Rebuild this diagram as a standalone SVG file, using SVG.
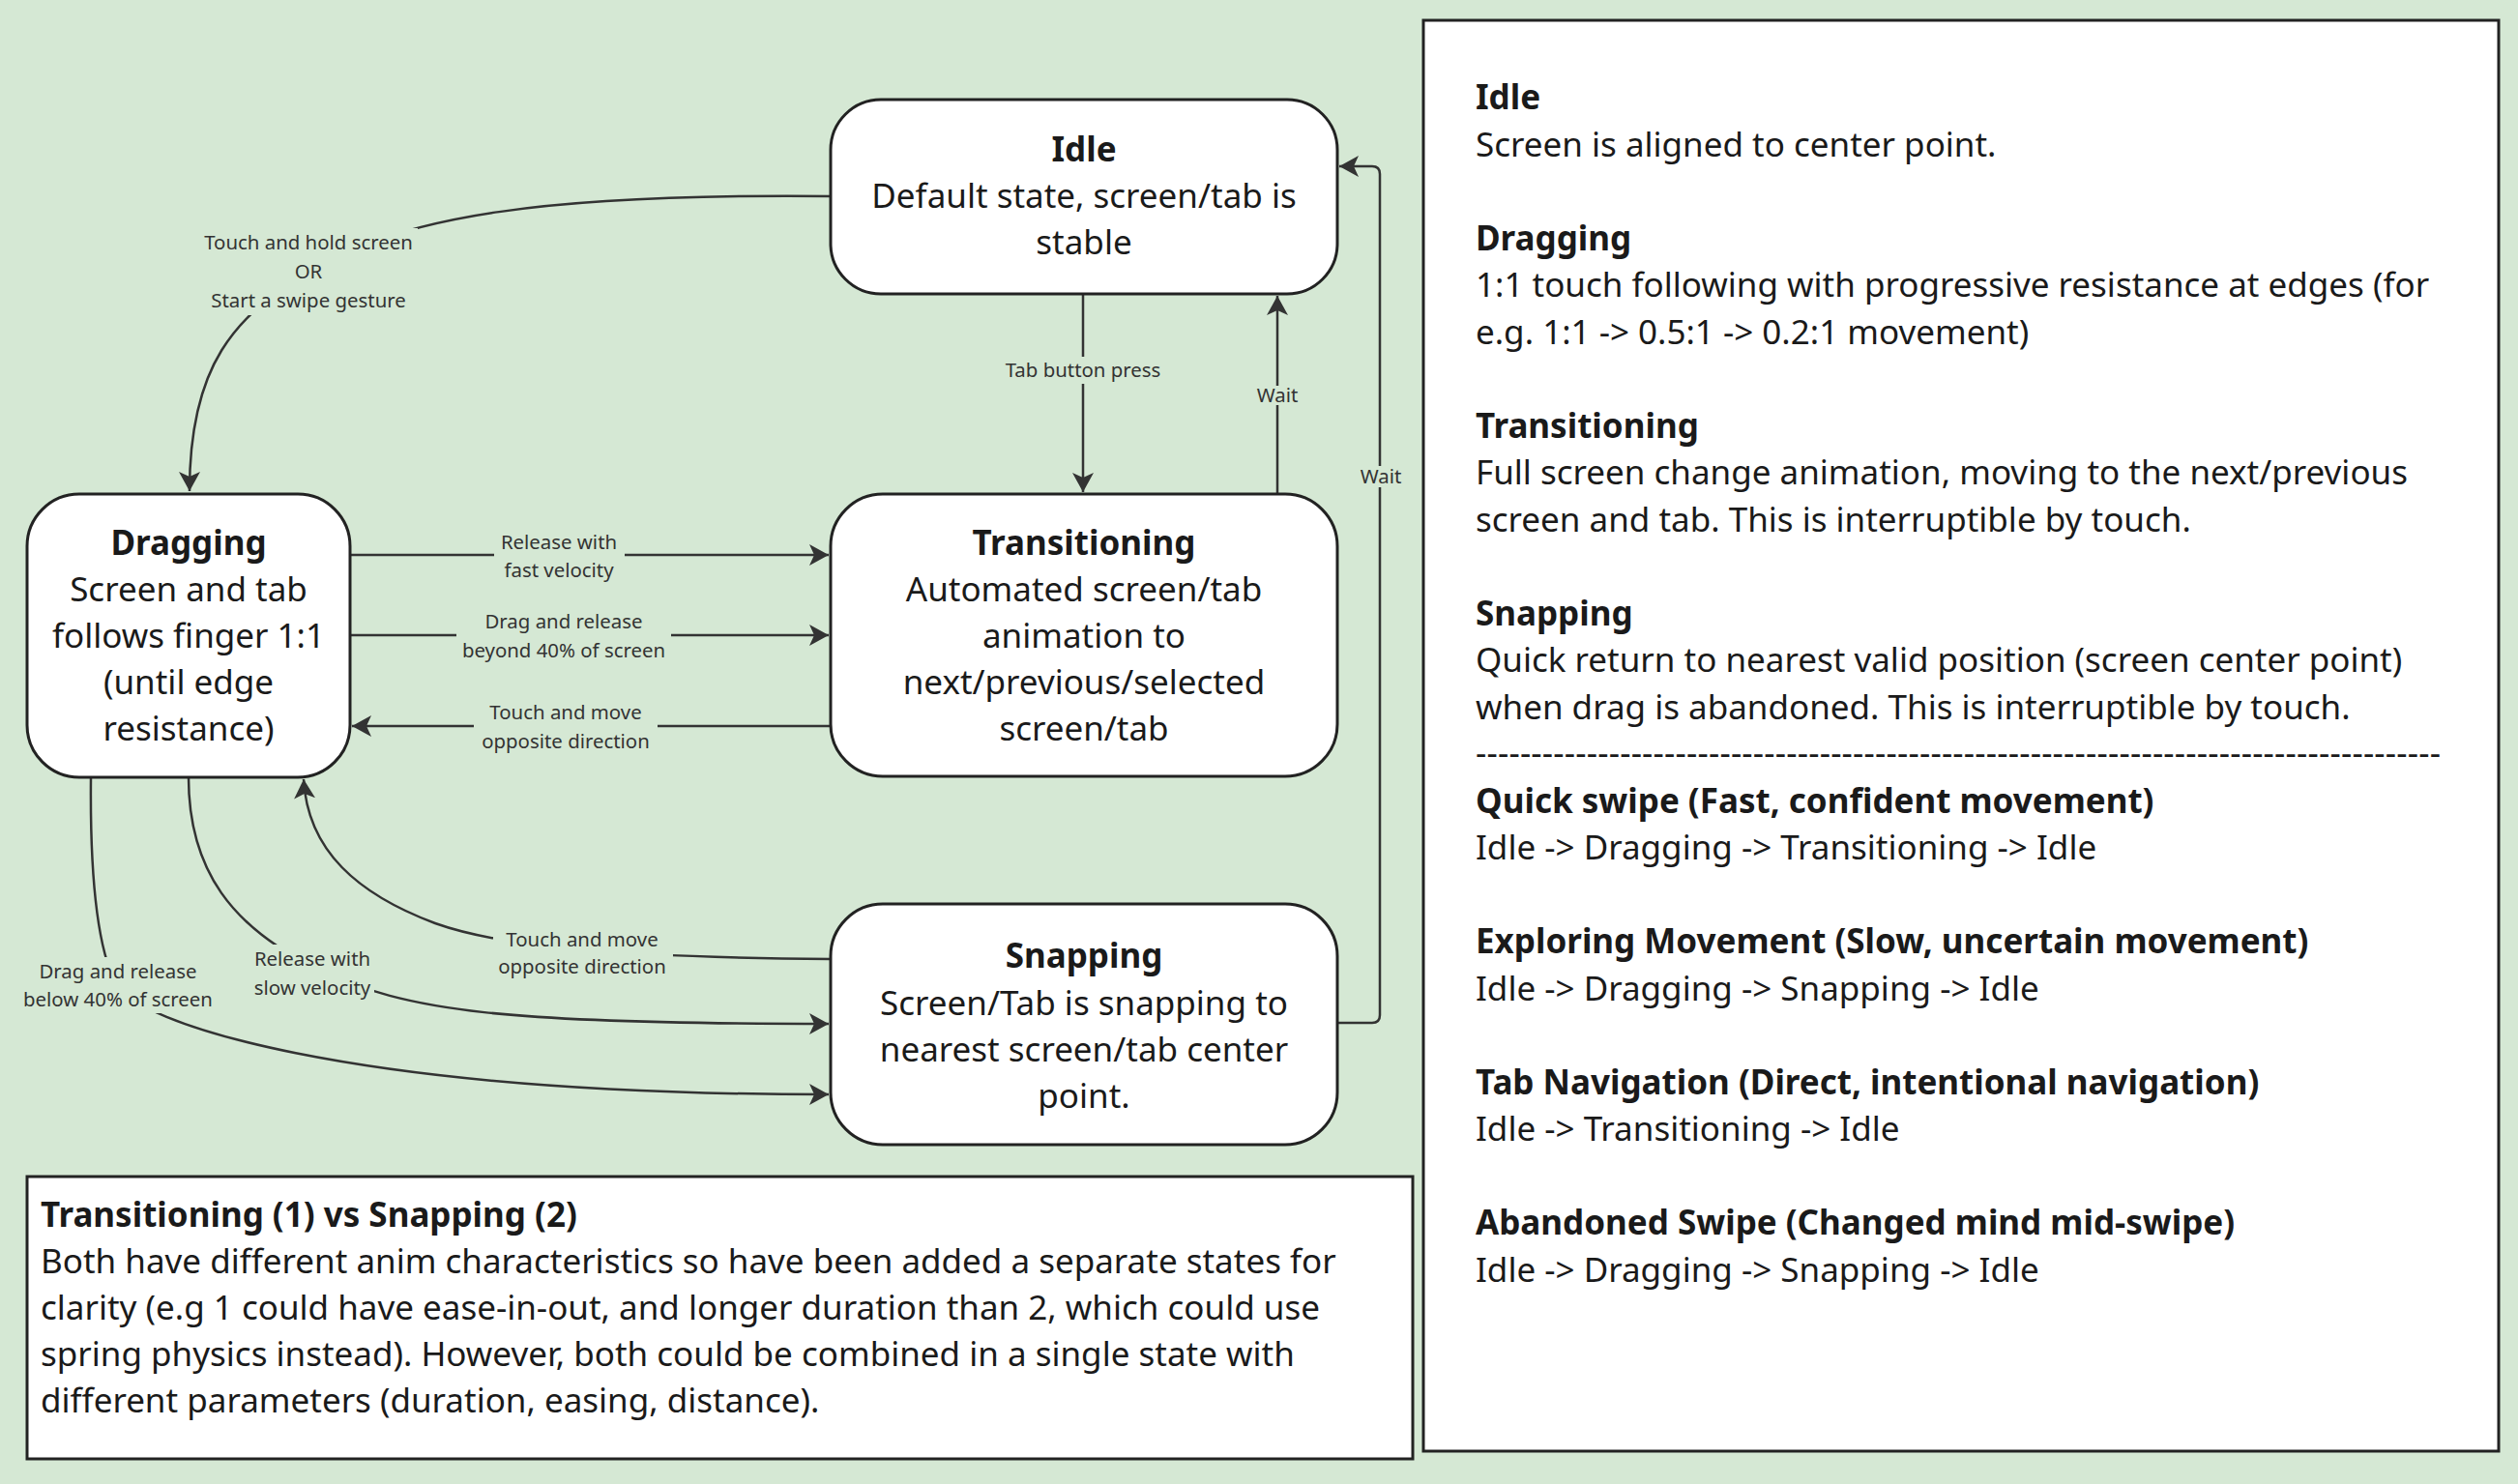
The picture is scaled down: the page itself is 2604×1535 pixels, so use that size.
<svg xmlns="http://www.w3.org/2000/svg" width="2604" height="1535" viewBox="0 0 2604 1535">
<style>
.node{fill:#ffffff;stroke:#222222;stroke-width:3}
.panel{fill:#ffffff;stroke:#222222;stroke-width:3}
.nt{font-family:"Noto Sans","Open Sans",sans-serif;font-size:35px;fill:#1a1a1a;text-anchor:middle}
.b{font-weight:bold}
.pt{font-family:"Noto Sans","Open Sans",sans-serif;font-size:35px;fill:#1a1a1a}
.edge{fill:none;stroke:#333333;stroke-width:2.5}
.lbl{font-family:"Noto Sans","Open Sans",sans-serif;font-size:20.4px;fill:#333333;text-anchor:middle}
.lb{fill:#d5e8d4}
</style>
<defs>
<marker id="arr" markerUnits="userSpaceOnUse" markerWidth="22" markerHeight="22" refX="20" refY="11" orient="auto" viewBox="0 0 22 22">
<path d="M0,0 L20,11 L0,22 L5,11 Z" fill="#333333"/>
</marker>
</defs>
<rect x="0" y="0" width="2604" height="1535" fill="#d5e8d4"/>

<g id="connectors">
<path class="edge" d="M859,203 C560,200 420,225 330,275 S196,380 196,508" marker-end="url(#arr)"/>
<path class="edge" d="M1120,304 L1120,509" marker-end="url(#arr)"/>
<path class="edge" d="M1321,511 L1321,306" marker-end="url(#arr)"/>
<path class="edge" d="M1383,1058 L1419,1058 Q1427,1058 1427,1050 L1427,180 Q1427,172 1419,172 L1385,172" marker-end="url(#arr)"/>
<path class="edge" d="M362,574 L857,574" marker-end="url(#arr)"/>
<path class="edge" d="M362,657 L857,657" marker-end="url(#arr)"/>
<path class="edge" d="M859,751 L364,751" marker-end="url(#arr)"/>
<path class="edge" d="M94,804 C93,900 100,980 120,1018 C140,1056 350,1132 857,1132" marker-end="url(#arr)"/>
<path class="edge" d="M195,804 C195,900 240,960 330,1003 C420,1046 520,1059 857,1059" marker-end="url(#arr)"/>
<path class="edge" d="M859,992 C640,990 520,980 450,955 C370,925 318,880 314,806" marker-end="url(#arr)"/>

<rect class="lb" x="206" y="236" width="226" height="90"/>
<text class="lbl"><tspan x="319" y="258">Touch and hold screen</tspan><tspan x="319" y="288">OR</tspan><tspan x="319" y="318">Start a swipe gesture</tspan></text>
<rect class="lb" x="1034" y="369" width="172" height="28"/>
<text class="lbl" x="1120" y="390">Tab button press</text>
<rect class="lb" x="1297" y="399" width="48" height="20"/>
<text class="lbl" x="1321" y="416">Wait</text>
<rect class="lb" x="1404" y="482" width="48" height="22"/>
<text class="lbl" x="1428" y="500">Wait</text>
<rect class="lb" x="511" y="545" width="135" height="60"/>
<text class="lbl"><tspan x="578" y="568">Release with</tspan><tspan x="578" y="597">fast velocity</tspan></text>
<rect class="lb" x="472" y="628" width="222" height="60"/>
<text class="lbl"><tspan x="583" y="650">Drag and release</tspan><tspan x="583" y="680">beyond 40% of screen</tspan></text>
<rect class="lb" x="490" y="722" width="190" height="60"/>
<text class="lbl"><tspan x="585" y="744">Touch and move</tspan><tspan x="585" y="774">opposite direction</tspan></text>
<rect class="lb" x="20" y="990" width="204" height="58"/>
<text class="lbl"><tspan x="122" y="1012">Drag and release</tspan><tspan x="122" y="1041">below 40% of screen</tspan></text>
<rect class="lb" x="259" y="977" width="128" height="60"/>
<text class="lbl"><tspan x="323" y="999">Release with</tspan><tspan x="323" y="1029">slow velocity</tspan></text>
<rect class="lb" x="510" y="956" width="186" height="58"/>
<text class="lbl"><tspan x="602" y="979">Touch and move</tspan><tspan x="602" y="1007">opposite direction</tspan></text>
</g>

<g id="idle">
<rect class="node" x="859" y="103" width="524" height="201" rx="52" ry="52"/>
<text class="nt"><tspan class="b" x="1121" y="167">Idle</tspan><tspan x="1121" y="215">Default state, screen/tab is</tspan><tspan x="1121" y="263">stable</tspan></text>
</g>
<g id="dragging">
<rect class="node" x="28" y="511" width="334" height="293" rx="54" ry="54"/>
<text class="nt"><tspan class="b" x="195" y="574">Dragging</tspan><tspan x="195" y="622">Screen and tab</tspan><tspan x="195" y="670">follows finger 1:1</tspan><tspan x="195" y="718">(until edge</tspan><tspan x="195" y="766">resistance)</tspan></text>
</g>
<g id="transitioning">
<rect class="node" x="859" y="511" width="524" height="292" rx="54" ry="54"/>
<text class="nt"><tspan class="b" x="1121" y="574">Transitioning</tspan><tspan x="1121" y="622">Automated screen/tab</tspan><tspan x="1121" y="670">animation to</tspan><tspan x="1121" y="718">next/previous/selected</tspan><tspan x="1121" y="766">screen/tab</tspan></text>
</g>
<g id="snapping">
<rect class="node" x="859" y="935" width="524" height="249" rx="54" ry="54"/>
<text class="nt"><tspan class="b" x="1121" y="1001">Snapping</tspan><tspan x="1121" y="1050">Screen/Tab is snapping to</tspan><tspan x="1121" y="1098">nearest screen/tab center</tspan><tspan x="1121" y="1146">point.</tspan></text>
</g>

<g id="note">
<rect class="panel" x="28" y="1217" width="1433" height="292"/>
<text class="pt"><tspan class="b" x="42" y="1269">Transitioning (1) vs Snapping (2)</tspan><tspan x="42" y="1317">Both have different anim characteristics so have been added a separate states for</tspan><tspan x="42" y="1365">clarity (e.g 1 could have ease-in-out, and longer duration than 2, which could use</tspan><tspan x="42" y="1413">spring physics instead). However, both could be combined in a single state with</tspan><tspan x="42" y="1461">different parameters (duration, easing, distance).</tspan></text>
</g>

<g id="legend">
<rect class="panel" x="1472" y="21" width="1112" height="1480"/>
<text class="pt">
<tspan class="b" x="1526" y="113">Idle</tspan>
<tspan x="1526" y="162">Screen is aligned to center point.</tspan>
<tspan class="b" x="1526" y="259">Dragging</tspan>
<tspan x="1526" y="307">1:1 touch following with progressive resistance at edges (for</tspan>
<tspan x="1526" y="356">e.g. 1:1 -&gt; 0.5:1 -&gt; 0.2:1 movement)</tspan>
<tspan class="b" x="1526" y="453">Transitioning</tspan>
<tspan x="1526" y="501">Full screen change animation, moving to the next/previous</tspan>
<tspan x="1526" y="550">screen and tab. This is interruptible by touch.</tspan>
<tspan class="b" x="1526" y="647">Snapping</tspan>
<tspan x="1526" y="695">Quick return to nearest valid position (screen center point)</tspan>
<tspan x="1526" y="744">when drag is abandoned. This is interruptible by touch.</tspan>
<tspan class="b" x="1526" y="841">Quick swipe (Fast, confident movement)</tspan>
<tspan x="1526" y="889">Idle -&gt; Dragging -&gt; Transitioning -&gt; Idle</tspan>
<tspan class="b" x="1526" y="986">Exploring Movement (Slow, uncertain movement)</tspan>
<tspan x="1526" y="1035">Idle -&gt; Dragging -&gt; Snapping -&gt; Idle</tspan>
<tspan class="b" x="1526" y="1132">Tab Navigation (Direct, intentional navigation)</tspan>
<tspan x="1526" y="1180">Idle -&gt; Transitioning -&gt; Idle</tspan>
<tspan class="b" x="1526" y="1277">Abandoned Swipe (Changed mind mid-swipe)</tspan>
<tspan x="1526" y="1326">Idle -&gt; Dragging -&gt; Snapping -&gt; Idle</tspan>
</text>
<text class="pt" x="1526" y="791" textLength="998" lengthAdjust="spacing">---------------------------------------------------------------------------------------</text>
</g>
</svg>
